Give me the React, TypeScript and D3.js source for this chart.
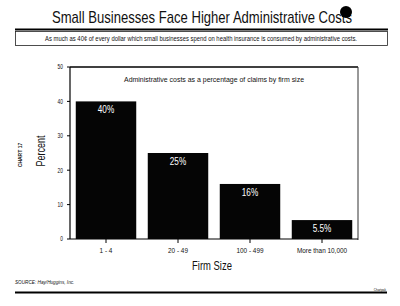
import { useEffect, useRef } from 'react';
import * as d3 from 'd3';

const firmSizes = ['1 - 4', '20 - 49', '100 - 499', 'More than 10,000'];
const adminCostPct = [40, 25, 16, 5.5];
const barLabels = ['40%', '25%', '16%', '5.5%'];
const yTicks = [0, 10, 20, 30, 40, 50];

const W = 400;
const H = 306;
const SANS = "'Liberation Sans', Arial, Helvetica, sans-serif";

type Sel = d3.Selection<SVGSVGElement, unknown, null, undefined>;

// horizontally squeezed text, to get the narrow typewriter-chart look
function narrowText(
  svg: Sel,
  x: number,
  y: number,
  txt: string,
  size: number,
  sx: number,
  anchor = 'middle',
  fill = '#111',
) {
  return svg.append('text')
    .attr('transform', `translate(${x},${y}) scale(${sx},1)`)
    .attr('text-anchor', anchor)
    .attr('font-family', SANS)
    .attr('font-size', size)
    .attr('fill', fill)
    .text(txt);
}

export default function App() {
  const svgRef = useRef<SVGSVGElement>(null);

  useEffect(() => {
    document.body.style.margin = '0';
    if (!svgRef.current) return;
    const svg = d3.select(svgRef.current) as Sel;
    svg.selectAll('*').remove();

    svg.append('rect').attr('width', W).attr('height', H).attr('fill', '#fff');

    // Heading
    svg.append('text')
      .attr('x', 202)
      .attr('y', 23)
      .attr('text-anchor', 'middle')
      .attr('font-family', SANS)
      .attr('font-size', 17)
      .attr('textLength', 300)
      .attr('lengthAdjust', 'spacingAndGlyphs')
      .attr('fill', '#111')
      .text('Small Businesses Face Higher Administrative Costs');

    // ink blot on the heading
    svg.append('circle').attr('cx', 346).attr('cy', 12).attr('r', 6).attr('fill', '#000');

    svg.append('line')
      .attr('x1', 15).attr('x2', 388).attr('y1', 29.5).attr('y2', 29.5)
      .attr('stroke', '#000').attr('stroke-width', 2);

    svg.append('rect')
      .attr('x', 15.5).attr('y', 31.5).attr('width', 372).attr('height', 14)
      .attr('fill', 'none').attr('stroke', '#222').attr('stroke-width', 0.8);

    svg.append('text')
      .attr('x', 201)
      .attr('y', 41)
      .attr('text-anchor', 'middle')
      .attr('font-family', SANS)
      .attr('font-size', 6.5)
      .attr('textLength', 312)
      .attr('lengthAdjust', 'spacingAndGlyphs')
      .attr('fill', '#111')
      .text('As much as 40¢ of every dollar which small businesses spend on health insurance is consumed by administrative costs.');

    // Plot area
    const left = 70;
    const right = 358;
    const top = 67;
    const bottom = 239;

    const x = d3.scaleBand<string>()
      .domain(firmSizes)
      .range([left, right])
      .paddingInner(0.16)
      .paddingOuter(0.08);

    const y = d3.scaleLinear().domain([0, 50]).range([bottom, top]);

    // frame
    svg.append('line')
      .attr('x1', left).attr('x2', right).attr('y1', top).attr('y2', top)
      .attr('stroke', '#000').attr('stroke-width', 1.5);
    svg.append('line')
      .attr('x1', right).attr('x2', right).attr('y1', top).attr('y2', bottom + 1)
      .attr('stroke', '#333').attr('stroke-width', 1);
    svg.append('line')
      .attr('x1', left).attr('x2', right).attr('y1', bottom).attr('y2', bottom)
      .attr('stroke', '#000').attr('stroke-width', 1.2);
    svg.append('line')
      .attr('x1', left).attr('x2', left).attr('y1', top).attr('y2', bottom)
      .attr('stroke', '#000').attr('stroke-width', 1.2);

    svg.append('text')
      .attr('x', 214)
      .attr('y', 82)
      .attr('text-anchor', 'middle')
      .attr('font-family', SANS)
      .attr('font-size', 8)
      .attr('textLength', 180)
      .attr('lengthAdjust', 'spacingAndGlyphs')
      .attr('fill', '#111')
      .text('Administrative costs as a percentage of claims by firm size');

    // y axis ticks
    yTicks.forEach(t => {
      svg.append('line')
        .attr('x1', left - 3).attr('x2', left).attr('y1', y(t)).attr('y2', y(t))
        .attr('stroke', '#000').attr('stroke-width', 1);
      narrowText(svg, left - 7, y(t) + 2.3, String(t), 6.5, 0.75, 'end');
    });

    // bars
    firmSizes.forEach((f, i) => {
      const bx = x(f) as number;
      const cx = bx + x.bandwidth() / 2;
      svg.append('rect')
        .attr('x', bx)
        .attr('y', y(adminCostPct[i]))
        .attr('width', x.bandwidth())
        .attr('height', bottom - y(adminCostPct[i]))
        .attr('fill', '#050505');
      narrowText(svg, cx, y(adminCostPct[i]) + 12, barLabels[i], 10.5, 0.78, 'middle', '#fff');
      // category ticks and labels
      svg.append('line')
        .attr('x1', cx).attr('x2', cx)
        .attr('y1', bottom).attr('y2', bottom + 4)
        .attr('stroke', '#000').attr('stroke-width', 1);
      narrowText(svg, cx, 253, f, 8, 0.8);
    });

    narrowText(svg, 212, 270, 'Firm Size', 13.5, 0.7);

    svg.append('text')
      .attr('transform', `translate(45,151) rotate(-90) scale(0.72,1)`)
      .attr('text-anchor', 'middle')
      .attr('font-family', SANS)
      .attr('font-size', 12.5)
      .attr('fill', '#111')
      .text('Percent');

    svg.append('text')
      .attr('transform', `translate(22,155) rotate(-90)`)
      .attr('text-anchor', 'middle')
      .attr('font-family', SANS)
      .attr('font-size', 5)
      .attr('font-weight', 'bold')
      .attr('fill', '#111')
      .text('CHART 17');

    // footer
    svg.append('text')
      .attr('transform', 'translate(15,284) scale(0.85,1)')
      .attr('font-family', SANS)
      .attr('font-size', 5.5)
      .attr('font-style', 'italic')
      .attr('fill', '#111')
      .text('SOURCE: Hay/Huggins, Inc.');

    svg.append('line')
      .attr('x1', 15).attr('x2', 387).attr('y1', 292.5).attr('y2', 292.5)
      .attr('stroke', '#000').attr('stroke-width', 1.8);

    svg.append('text')
      .attr('x', 386)
      .attr('y', 291)
      .attr('text-anchor', 'end')
      .attr('font-family', SANS)
      .attr('font-size', 3)
      .attr('fill', '#111')
      .text('Chartpak');
  }, []);

  return <svg ref={svgRef} width={W} height={H} style={{ display: 'block' }} />;
}
